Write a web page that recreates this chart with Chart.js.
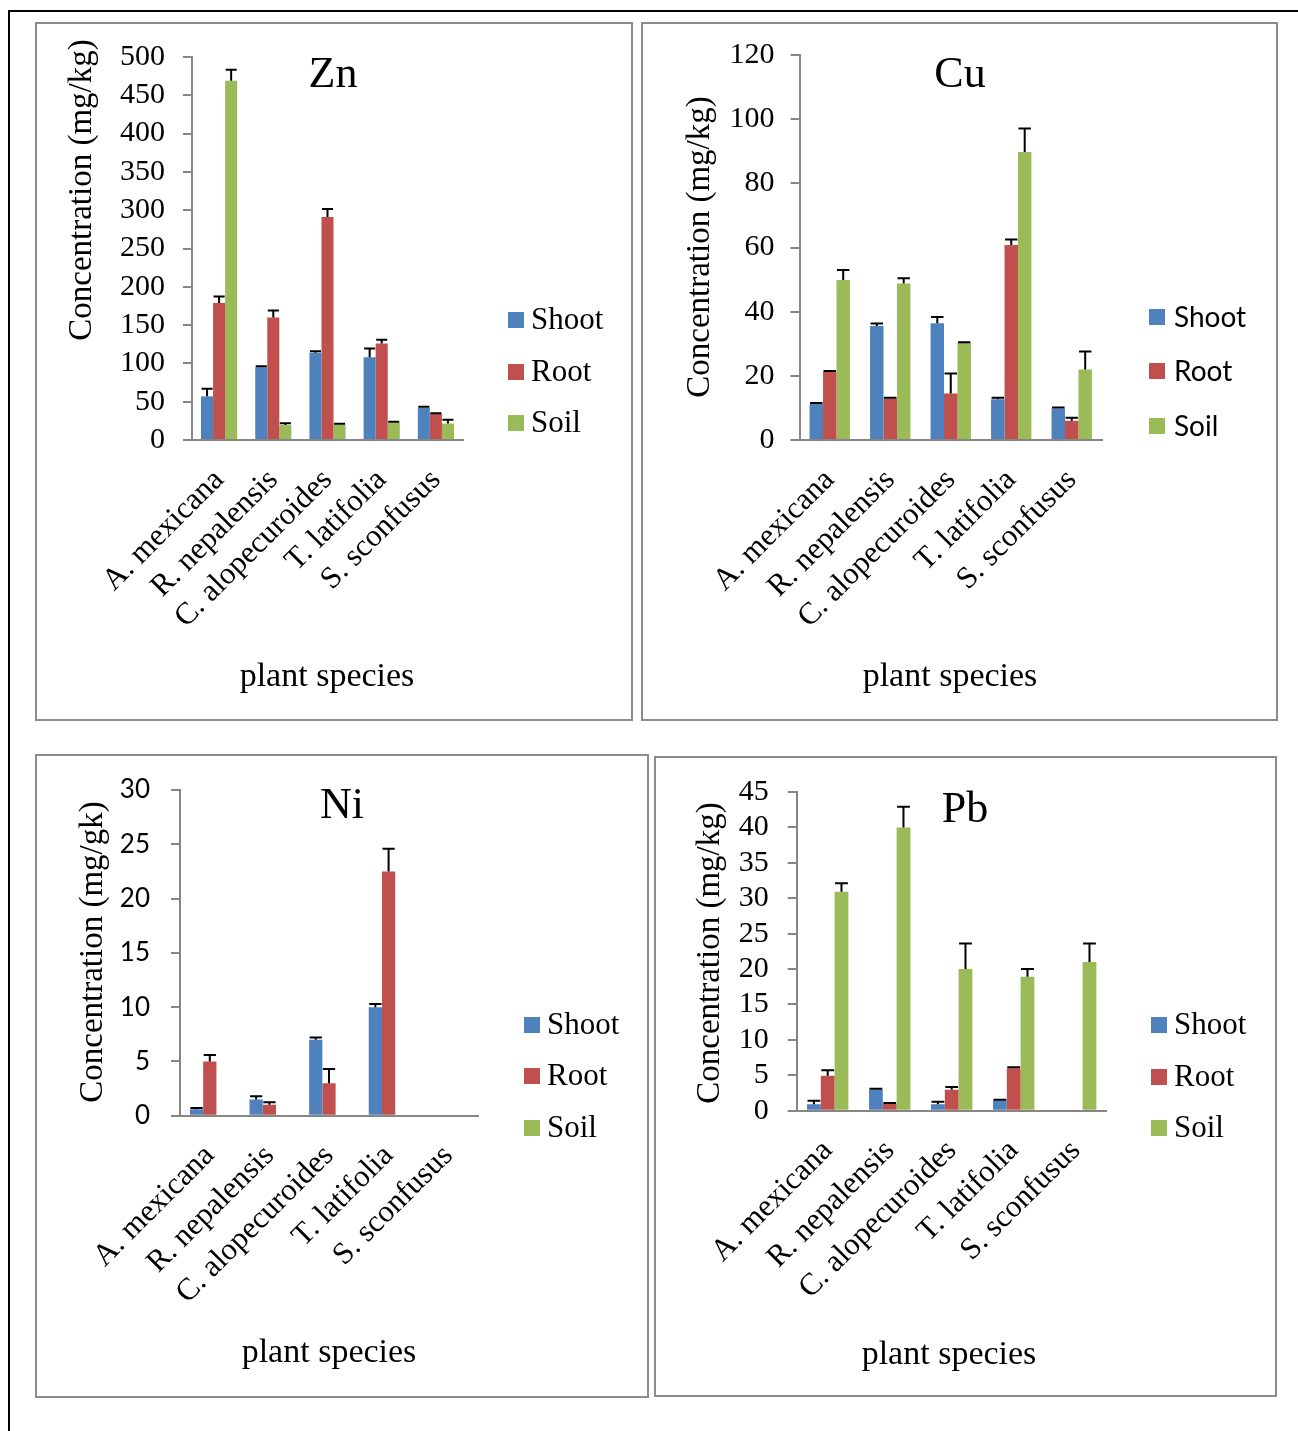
<!DOCTYPE html>
<html lang="en">
<head>
<meta charset="UTF-8">
<title>Zn, Cu, Ni and Pb concentration by plant species</title>
<script src="https://cdn.jsdelivr.net/npm/chart.js@4/dist/chart.umd.min.js"></script>
<style>
  * { box-sizing: border-box; margin: 0; padding: 0; }
  body { width: 1298px; height: 1431px; background: #fff; position: relative; overflow: hidden; }
  .frame-top { position: absolute; left: 8px; top: 10px; width: 1290px; height: 2px; background: #000; }
  .frame-left { position: absolute; left: 8px; top: 10px; width: 2px; height: 1421px; background: #000; }
  .panel { position: absolute; border: 2px solid #8c8c8c; background: #fff; }
  .panel canvas { position: absolute; left: 0; top: 0; }
</style>
</head>
<body>
<div class="frame-top"></div>
<div class="frame-left"></div>
<div class="panel" id="pZn"><canvas id="cZn"></canvas></div>
<div class="panel" id="pCu"><canvas id="cCu"></canvas></div>
<div class="panel" id="pNi"><canvas id="cNi"></canvas></div>
<div class="panel" id="pPb"><canvas id="cPb"></canvas></div>
<script>
const categories = ['A. mexicana', 'R. nepalensis', 'C. alopecuroides', 'T. latifolia', 'S. sconfusus']
const seriesNames = ['Shoot', 'Root', 'Soil']
const seriesColors = ['#4F81BD', '#C0504D', '#9BBB59']

// Zn (mg/kg)
const znShoot = [57, 95, 114, 108, 42]
const znRoot = [179, 160, 291, 126, 34]
const znSoil = [469, 19.5, 20, 22.5, 21.5]
const znShootErr = [10, 1.2, 2, 11.5, 1.3]
const znRootErr = [8.5, 9, 10.5, 5, 1]
const znSoilErr = [14.5, 2.5, 1.3, 1.3, 5]
const znTicks = { max: 500, step: 50 }

// Cu (mg/kg)
const cuShoot = [11.2, 35.5, 36.4, 12.7, 9.8]
const cuRoot = [21.2, 12.9, 14.5, 60.8, 6]
const cuSoil = [49.9, 48.8, 30.2, 89.8, 22]
const cuShootErr = [0.3, 0.8, 1.9, 0.5, 0.3]
const cuRootErr = [0.3, 0.3, 6.2, 1.7, 0.9]
const cuSoilErr = [3.1, 1.6, 0.3, 7.3, 5.6]
const cuTicks = { max: 120, step: 20 }

// Ni (mg/kg)
const niShoot = [0.6, 1.5, 7.0, 10.0, 0]
const niRoot = [5.0, 1.0, 3.0, 22.5, 0]
const niSoil = [0, 0, 0, 0, 0]
const niShootErr = [0.1, 0.3, 0.2, 0.3, 0]
const niRootErr = [0.6, 0.25, 1.3, 2.1, 0]
const niSoilErr = [0, 0, 0, 0, 0]
const niTicks = { max: 30, step: 5 }

// Pb (mg/kg)
const pbShoot = [0.9, 3.0, 0.9, 1.45, 0]
const pbRoot = [4.95, 0.95, 2.95, 6.0, 0]
const pbSoil = [30.9, 40.0, 20.0, 18.9, 21.0]
const pbShootErr = [0.5, 0.1, 0.35, 0.1, 0]
const pbRootErr = [0.75, 0.15, 0.4, 0.15, 0]
const pbSoilErr = [1.2, 2.9, 3.6, 1.1, 2.6]
const pbTicks = { max: 45, step: 5 }

const SERIF = "'Liberation Serif', 'Times New Roman', serif"
const SANS = "Lato, 'Open Sans', sans-serif"
const AXIS_GRAY = '#868686'

// page-space layout of each panel: box = border box, area = plot area
const panels = [
  {
    id: 'Zn', box: [35, 22, 598, 699], area: [192, 53.5, 463, 440], ticks: znTicks,
    values: [znShoot, znRoot, znSoil], errors: [znShootErr, znRootErr, znSoilErr],
    tickFont: { family: SERIF, size: 30, lineHeight: 1 }, tickPad: 18,
    title: { text: 'Zn', x: 333, y: 87 },
    yTitle: { text: 'Concentration (mg/kg)', x: 82, y: 190 },
    xTitle: { text: 'plant species', x: 327, y: 686 },
    legend: { x: 508, ys: [320, 372, 423], gap: 23, font: '31px ' + SERIF }
  },
  {
    id: 'Cu', box: [641, 22, 637, 699], area: [799.5, 53.5, 1102, 440], ticks: cuTicks,
    values: [cuShoot, cuRoot, cuSoil], errors: [cuShootErr, cuRootErr, cuSoilErr],
    tickFont: { family: SERIF, size: 30, lineHeight: 1 }, tickPad: 16,
    title: { text: 'Cu', x: 960, y: 87 },
    yTitle: { text: 'Concentration (mg/kg)', x: 700, y: 247 },
    xTitle: { text: 'plant species', x: 950, y: 686 },
    legend: { x: 1149, ys: [317, 371, 426], gap: 25, font: '28px ' + SANS }
  },
  {
    id: 'Ni', box: [35, 754, 614, 644], area: [180, 788.3, 478, 1115.7], ticks: niTicks,
    values: [niShoot, niRoot, niSoil], errors: [niShootErr, niRootErr, niSoilErr],
    tickFont: { family: SANS, size: 26, lineHeight: 1 }, tickPad: 21,
    title: { text: 'Ni', x: 342, y: 818 },
    yTitle: { text: 'Concentration (mg/gk)', x: 93, y: 952 },
    xTitle: { text: 'plant species', x: 329, y: 1362 },
    legend: { x: 524, ys: [1025, 1076, 1128], gap: 23, font: '31px ' + SERIF }
  },
  {
    id: 'Pb', box: [654, 756, 623, 641], area: [796.7, 788.3, 1106.7, 1110.7], ticks: pbTicks,
    values: [pbShoot, pbRoot, pbSoil], errors: [pbShootErr, pbRootErr, pbSoilErr],
    tickFont: { family: SERIF, size: 30, lineHeight: 1 }, tickPad: 19,
    title: { text: 'Pb', x: 965, y: 822 },
    yTitle: { text: 'Concentration (mg/kg)', x: 710, y: 953 },
    xTitle: { text: 'plant species', x: 949, y: 1364 },
    legend: { x: 1151, ys: [1025, 1077, 1128], gap: 23, font: '31px ' + SERIF }
  }
]

// error bars (positive side only), titles and legend
const decor = {
  id: 'decor',
  afterDatasetsDraw(chart) {
    const ctx = chart.ctx
    const y = chart.scales.y
    ctx.save()
    ctx.strokeStyle = '#000'
    ctx.lineWidth = 2
    chart.data.datasets.forEach((ds, i) => {
      const meta = chart.getDatasetMeta(i)
      meta.data.forEach((bar, j) => {
        const err = ds.errors[j]
        if (!err || !ds.data[j]) return
        const yTop = y.getPixelForValue(ds.data[j] + err)
        const half = bar.width / 2 - 0.5
        ctx.beginPath()
        ctx.moveTo(bar.x, bar.y)
        ctx.lineTo(bar.x, yTop)
        ctx.moveTo(bar.x - half, yTop)
        ctx.lineTo(bar.x + half, yTop)
        ctx.stroke()
      })
    })
    ctx.restore()
  },
  afterDraw(chart, args, o) {
    const ctx = chart.ctx
    const ox = o.origin[0], oy = o.origin[1]
    ctx.save()
    ctx.fillStyle = '#000'
    ctx.textAlign = 'center'
    ctx.textBaseline = 'alphabetic'
    ctx.font = '44px ' + SERIF
    ctx.fillText(o.title.text, o.title.x - ox, o.title.y - oy)
    ctx.font = '34px ' + SERIF
    ctx.fillText(o.xTitle.text, o.xTitle.x - ox, o.xTitle.y - oy)
    ctx.save()
    ctx.translate(o.yTitle.x - ox, o.yTitle.y - oy)
    ctx.rotate(-Math.PI / 2)
    ctx.textBaseline = 'middle'
    ctx.font = '33px ' + SERIF
    ctx.fillText(o.yTitle.text, 0, 0)
    ctx.restore()
    ctx.textAlign = 'left'
    ctx.textBaseline = 'middle'
    ctx.font = o.legend.font
    chart.data.datasets.forEach((ds, i) => {
      const cy = o.legend.ys[i] - oy
      const lx = o.legend.x - ox
      ctx.fillStyle = ds.backgroundColor
      ctx.fillRect(lx, cy - 8, 16, 16)
      ctx.fillStyle = '#000'
      ctx.fillText(ds.label, lx + o.legend.gap, cy + 1)
    })
    ctx.restore()
  }
}

panels.forEach(p => {
  const el = document.getElementById('p' + p.id)
  el.style.left = p.box[0] + 'px'
  el.style.top = p.box[1] + 'px'
  el.style.width = p.box[2] + 'px'
  el.style.height = p.box[3] + 'px'
  const ox = p.box[0] + 2, oy = p.box[1] + 2
  const cw = p.box[2] - 4, ch = p.box[3] - 4
  const canvas = document.getElementById('c' + p.id)
  canvas.width = cw
  canvas.height = ch
  canvas.style.width = cw + 'px'
  canvas.style.height = ch + 'px'
  // y scale box spans from the panel edge to the axis, x scale box from the axis to the panel bottom
  const yW = p.area[0] - ox
  const xH = oy + ch - p.area[3]

  new Chart(canvas, {
    type: 'bar',
    data: {
      labels: categories,
      datasets: seriesNames.map((name, i) => ({
        label: name,
        data: p.values[i],
        errors: p.errors[i],
        backgroundColor: seriesColors[i],
        borderWidth: 0,
        categoryPercentage: 0.667,
        barPercentage: 1
      }))
    },
    options: {
      responsive: false,
      animation: false,
      devicePixelRatio: 1,
      layout: {
        padding: { left: 0, top: p.area[1] - oy, right: ox + cw - p.area[2], bottom: 0 }
      },
      plugins: {
        legend: { display: false },
        title: { display: false },
        tooltip: { enabled: false },
        decor: {
          origin: [ox, oy], title: p.title, xTitle: p.xTitle, yTitle: p.yTitle, legend: p.legend
        }
      },
      scales: {
        x: {
          grid: { display: false, drawTicks: false },
          border: { display: true, color: AXIS_GRAY, width: 2 },
          ticks: {
            color: '#000', font: { family: SERIF, size: 31 },
            minRotation: 45, maxRotation: 45, autoSkip: false, padding: 22
          },
          afterFit: s => { s.height = xH }
        },
        y: {
          min: 0, max: p.ticks.max,
          grid: { display: true, drawOnChartArea: false, drawTicks: true, tickLength: 9, color: AXIS_GRAY, lineWidth: 2 },
          border: { display: true, color: AXIS_GRAY, width: 2 },
          ticks: { stepSize: p.ticks.step, autoSkip: false, color: '#000', font: p.tickFont, padding: p.tickPad },
          afterFit: s => { s.width = yW }
        }
      }
    },
    plugins: [decor]
  })
})
</script>
</body>
</html>
